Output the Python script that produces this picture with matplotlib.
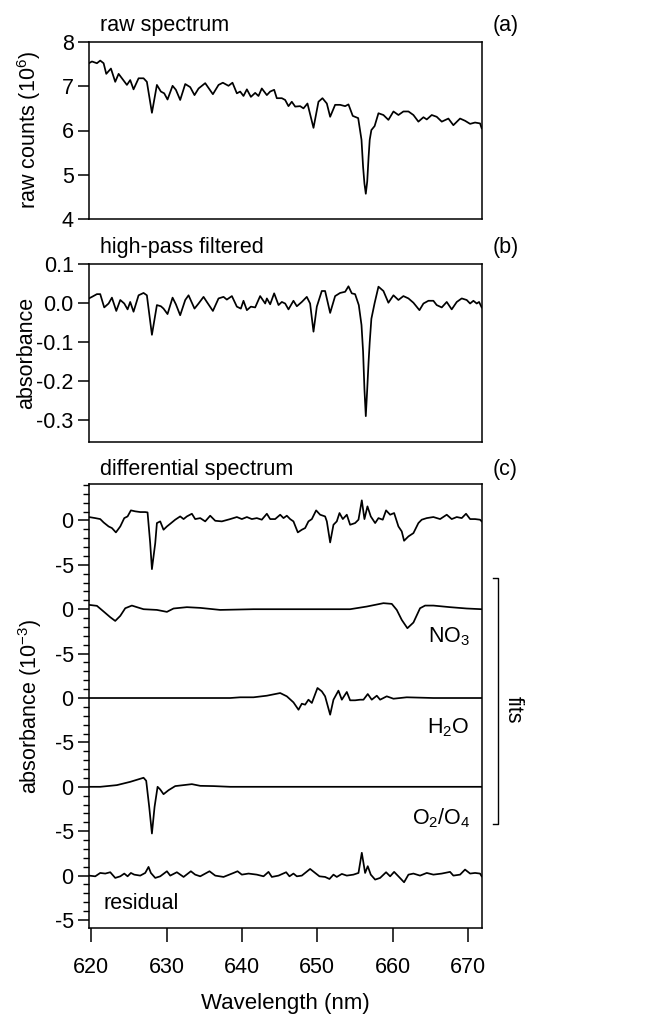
import matplotlib
matplotlib.use("Agg")
import matplotlib.pyplot as plt
from matplotlib.ticker import FixedLocator, MultipleLocator
import numpy as np

plt.rcParams['font.family'] = ['Liberation Sans', 'DejaVu Sans']
plt.rcParams['mathtext.fontset'] = 'custom'
plt.rcParams['mathtext.rm'] = 'Liberation Sans'
plt.rcParams['mathtext.it'] = 'Liberation Sans:italic'
plt.rcParams['mathtext.default'] = 'regular'
plt.rcParams['axes.unicode_minus'] = False

# ---------------- data ----------------
# (a) raw spectrum, counts in 1e6
raw_wl = [619.69, 620.09, 620.75, 621.19, 621.64, 621.99, 622.61, 623.18, 623.63, 624.07,
          624.73, 625.17, 625.61, 626.28, 626.94, 627.38, 628.05, 628.71, 629.24, 629.68,
          630.12, 630.79, 631.23, 631.80, 632.47, 633.13, 633.70, 634.24, 635.12, 636.14,
          636.89, 637.46, 638.21, 638.74, 639.32, 639.76, 640.20, 640.65, 641.18, 641.75,
          642.19, 642.63, 643.30, 643.74, 644.27, 644.62, 645.29, 645.73, 646.17, 646.61,
          647.06, 647.72, 648.16, 648.69, 649.49, 650.15, 650.68, 651.26, 651.70, 652.36,
          653.02, 653.69, 654.13, 654.70, 655.42, 655.86, 656.07, 656.25, 656.43, 656.62,
          656.80, 656.95, 657.17, 657.60, 658.11, 658.77, 659.43, 660.10, 660.76, 661.42,
          662.09, 662.75, 663.41, 664.08, 664.52, 665.18, 665.84, 666.51, 667.39, 668.05,
          668.94, 669.60, 670.27, 670.93, 671.59, 671.81]
raw_counts = [7.52, 7.56, 7.52, 7.58, 7.52, 7.28, 7.40, 7.10, 7.28, 7.18,
              7.03, 7.14, 6.93, 7.18, 7.18, 7.10, 6.40, 7.03, 6.88, 6.84,
              6.70, 7.01, 6.92, 6.69, 7.05, 6.98, 6.80, 6.95, 7.07, 6.82,
              7.03, 7.08, 7.01, 7.08, 6.84, 6.88, 6.78, 6.93, 6.76, 6.85,
              6.78, 6.95, 6.80, 6.88, 6.92, 6.73, 6.73, 6.69, 6.55, 6.65,
              6.54, 6.55, 6.50, 6.61, 6.06, 6.65, 6.73, 6.61, 6.31, 6.58,
              6.58, 6.55, 6.59, 6.33, 6.28, 5.79, 5.18, 4.80, 4.57, 4.85,
              5.40, 5.79, 6.01, 6.10, 6.39, 6.35, 6.24, 6.43, 6.35, 6.43,
              6.43, 6.35, 6.20, 6.30, 6.25, 6.35, 6.31, 6.20, 6.27, 6.12,
              6.27, 6.22, 6.15, 6.18, 6.16, 6.05]

# (b) high-pass filtered absorbance
hp_wl = [619.69, 620.09, 620.75, 621.19, 621.72, 622.30, 622.74, 623.32, 623.85, 624.38,
         624.82, 625.17, 625.61, 626.28, 626.94, 627.38, 628.05, 628.71, 629.24, 629.59,
         630.12, 630.79, 631.23, 631.80, 632.47, 632.91, 633.70, 634.24, 634.90, 635.34,
         636.14, 636.89, 637.55, 637.99, 638.66, 639.32, 639.85, 640.20, 640.65, 641.18,
         641.75, 642.41, 643.08, 643.30, 643.74, 644.27, 644.85, 645.29, 645.73, 646.17,
         646.83, 647.28, 647.94, 648.60, 649.04, 649.49, 649.93, 650.59, 651.03, 651.70,
         652.36, 653.02, 653.69, 654.13, 654.57, 655.01, 655.50, 655.86, 656.07, 656.25,
         656.43, 656.62, 656.80, 656.95, 657.17, 657.60, 658.11, 658.77, 659.43, 660.10,
         660.76, 661.42, 662.09, 662.75, 663.55, 664.08, 664.74, 665.40, 665.84, 666.51,
         667.17, 667.83, 668.50, 669.16, 669.82, 670.27, 670.71, 671.15, 671.46, 671.81]
hp_abs = [0.012, 0.016, 0.023, 0.023, -0.011, -0.001, 0.014, -0.020, 0.008, -0.001,
          -0.016, 0.003, -0.022, 0.020, 0.026, 0.020, -0.081, -0.005, -0.008, -0.014,
          -0.028, 0.014, -0.003, -0.031, 0.008, 0.020, -0.014, -0.001, 0.016, 0.003,
          -0.020, 0.012, 0.016, 0.009, 0.018, -0.009, -0.014, 0.006, -0.018, -0.009,
          -0.011, 0.018, -0.001, 0.012, -0.003, 0.025, -0.005, 0.003, -0.001, -0.016,
          0.006, -0.008, 0.003, 0.016, -0.001, -0.073, -0.009, 0.031, 0.031, -0.025,
          0.018, 0.026, 0.029, 0.043, 0.025, 0.023, -0.005, -0.056, -0.124, -0.220,
          -0.289, -0.220, -0.150, -0.100, -0.040, 0.000, 0.042, 0.031, 0.001, 0.020,
          0.008, 0.018, 0.012, 0.001, -0.018, -0.001, 0.006, 0.006, -0.005, -0.011,
          0.003, -0.016, 0.003, 0.012, 0.008, -0.001, 0.006, -0.001, 0.003, -0.011]

# (c) differential spectrum (1e-3)
diff_wl = [619.69, 620.53, 621.19, 621.64, 622.30, 622.74, 623.27, 623.85, 624.38, 624.82,
           625.26, 625.84, 626.50, 627.16, 627.47, 627.82, 628.05, 628.49, 628.71, 629.15,
           629.59, 630.04, 630.48, 631.14, 631.80, 632.25, 632.69, 633.35, 633.79, 634.46,
           635.12, 635.78, 636.45, 637.33, 638.44, 639.32, 639.98, 640.65, 641.31, 641.97,
           642.63, 643.30, 643.74, 644.40, 645.07, 645.51, 645.95, 646.39, 646.83, 647.41,
           647.94, 648.38, 648.82, 649.27, 649.84, 650.37, 651.03, 651.26, 651.70, 652.14,
           652.58, 652.94, 653.38, 653.91, 654.35, 655.01, 655.46, 655.90, 656.25, 656.65,
           657.09, 657.67, 658.11, 658.68, 659.12, 659.66, 660.19, 660.76, 661.20, 661.51,
           662.09, 662.75, 663.41, 663.85, 664.52, 665.40, 666.29, 667.17, 667.83, 668.50,
           669.16, 669.73, 670.27, 670.93, 671.59, 671.81]
diff_abs = [0.38, 0.26, 0.15, -0.23, -0.68, -0.86, -1.35, -0.68, 0.26, 0.45,
            1.13, 1.02, 0.94, 0.94, 0.90, -2.56, -5.49, -2.56, -0.30, -0.11,
            -1.05, -0.68, -0.38, 0.08, 0.45, 0.15, 0.45, 0.75, 0.15, 0.26,
            -0.11, 0.53, -0.04, -0.11, 0.15, 0.38, 0.15, 0.38, 0.15, 0.26,
            0.08, 0.75, 0.15, 0.15, 0.64, 0.26, 0.53, 0.15, -0.11, -1.35,
            -1.05, -0.86, -0.11, 0.15, 1.13, 0.64, 0.45, -0.11, -2.48, -0.49,
            -0.11, 0.83, 0.15, 0.64, -0.49, -0.30, 0.08, 2.26, 0.15, 1.58,
            0.45, -0.30, 0.26, 0.08, 1.13, 0.64, 0.83, -0.68, -1.24, -2.29,
            -1.80, -1.43, -0.30, 0.08, 0.26, 0.38, 0.15, 0.64, 0.15, 0.38,
            0.26, 0.75, 0.15, 0.15, 0.08, -0.11]

no3_wl = [619.69, 620.75, 621.64, 622.52, 623.18, 623.85, 624.51, 625.39, 626.06, 626.94,
          628.71, 630.04, 630.92, 632.69, 634.46, 637.11, 641.53, 647.72, 654.35, 656.56,
          658.77, 659.88, 660.54, 661.20, 661.95, 662.75, 663.63, 664.30, 665.40, 667.61,
          669.82, 671.81]
no3_abs = [0.49, 0.38, -0.26, -0.90, -1.32, -0.75, 0.11, 0.41, 0.23, 0.00,
           -0.08, -0.30, 0.08, 0.23, 0.15, -0.08, 0.00, 0.00, 0.00, 0.30,
           0.68, 0.60, -0.08, -1.20, -2.14, -1.50, 0.11, 0.41, 0.41, 0.23,
           0.08, 0.00]

h2o_wl = [619.69, 638.44, 639.76, 641.53, 643.30, 645.07, 645.95, 646.83, 647.50, 647.94,
          648.38, 648.82, 649.27, 650.02, 650.59, 651.03, 651.70, 652.14, 652.80, 653.25,
          653.91, 654.35, 655.01, 655.68, 656.12, 656.69, 657.22, 657.89, 658.33, 659.21,
          660.10, 661.86, 665.40, 671.81]
h2o_abs = [0.00, 0.00, 0.08, 0.08, 0.26, 0.56, 0.19, -0.49, -1.32, -0.64,
           -0.75, -0.19, -0.56, 1.13, 0.75, 0.19, -1.88, -0.19, 0.83, -0.19,
           0.68, -0.26, -0.26, -0.19, -0.19, 0.45, -0.19, 0.26, -0.19, 0.19,
           -0.08, 0.08, 0.00, 0.00]

o2_wl = [619.69, 621.19, 623.40, 625.17, 626.94, 627.29, 627.69, 628.05, 628.40, 628.80,
         629.15, 629.59, 630.26, 631.14, 632.25, 633.35, 634.46, 636.22, 638.44, 671.81]
o2_abs = [0.00, 0.00, 0.19, 0.56, 1.02, 0.68, -2.26, -5.26, -2.26, 0.00,
          -0.30, -0.83, -0.38, 0.08, 0.19, 0.30, 0.11, 0.08, 0.00, 0.00]

res_wl = [619.69, 620.53, 621.19, 621.86, 622.52, 623.18, 623.85, 624.38, 624.82, 625.26,
          625.70, 626.50, 627.16, 627.60, 627.91, 628.49, 629.15, 630.04, 630.48, 631.36,
          632.25, 633.22, 633.79, 634.46, 635.69, 636.45, 637.55, 638.88, 639.41, 639.98,
          640.87, 641.97, 642.86, 643.52, 643.96, 644.85, 645.86, 646.30, 646.83, 647.28,
          647.94, 648.38, 649.04, 649.71, 650.28, 651.03, 651.61, 652.14, 652.58, 653.25,
          653.91, 654.79, 655.46, 655.90, 656.34, 656.69, 657.09, 657.67, 658.33, 659.12,
          659.66, 660.19, 660.76, 661.51, 662.09, 662.75, 663.63, 664.52, 665.40, 666.51,
          667.61, 668.05, 668.94, 669.60, 670.27, 670.93, 671.59, 671.81]
res_abs = [0.00, -0.08, 0.30, 0.23, 0.38, -0.26, -0.08, 0.23, -0.08, 0.30,
           0.11, 0.00, 0.30, 0.98, 0.30, -0.26, -0.08, 0.49, 0.00, 0.38,
           -0.15, 0.49, 0.11, -0.08, 0.49, 0.00, -0.15, 0.30, 0.49, 0.11,
           0.23, 0.11, -0.08, 0.42, -0.15, 0.00, 0.38, -0.08, 0.23, -0.08,
           0.00, 0.30, 0.75, 0.30, -0.08, -0.15, -0.38, 0.11, -0.15, 0.19,
           0.00, 0.11, 0.30, 2.57, 0.30, 1.06, 0.11, -0.45, -0.26, 0.38,
           -0.08, 0.42, -0.08, -0.75, 0.11, 0.23, 0.00, 0.30, 0.11, 0.23,
           0.42, 0.00, 0.11, 0.68, 0.23, 0.30, 0.23, -0.08]

diff_traces = [(diff_wl, diff_abs), (no3_wl, no3_abs), (h2o_wl, h2o_abs),
               (o2_wl, o2_abs), (res_wl, res_abs)]
trace_offsets = [0, -10, -20, -30, -40]

xticks = [620, 630, 640, 650, 660, 670]
xlim = (619.7, 671.85)

# ---------------- figure ----------------
W, H = 648, 1019
fig = plt.figure(figsize=(W / 100, H / 100), dpi=100)
FS = 15.5
LW = 1.25

def frac(l, t, r, b):
    return [l / W, 1 - b / H, (r - l) / W, (b - t) / H]

ax_a = fig.add_axes(frac(89, 42, 482, 219))
ax_b = fig.add_axes(frac(89, 264, 482, 442))
ax_c = fig.add_axes(frac(89, 484, 482, 928))

for ax in (ax_a, ax_b, ax_c):
    for s in ax.spines.values():
        s.set_linewidth(1.1)
    ax.set_xlim(*xlim)
    ax.tick_params(axis='y', direction='out', length=8, width=1.1, pad=3,
                   labelsize=FS, right=False)
    ax.tick_params(axis='y', which='minor', direction='out', length=4.5, width=1.0)

# (a)
ax_a.plot(raw_wl, raw_counts, color='black', lw=LW)
ax_a.set_ylim(4, 8)
ax_a.set_yticks([4, 5, 6, 7, 8])
ax_a.set_xticks([])
ax_a.set_ylabel('raw counts (10$^{6}$)', fontsize=FS)
ax_a.yaxis.set_label_coords(-0.117, 0.5)

# (b)
ax_b.plot(hp_wl, hp_abs, color='black', lw=LW)
ax_b.set_ylim(-0.355, 0.1)
ax_b.set_yticks([0.1, 0.0, -0.1, -0.2, -0.3])
ax_b.set_yticklabels(['0.1', '0.0', '-0.1', '-0.2', '-0.3'])
ax_b.set_xticks([])
ax_b.set_ylabel('absorbance', fontsize=FS)
ax_b.yaxis.set_label_coords(-0.132, 0.5)

# (c)
for (wl, ab), off in zip(diff_traces, trace_offsets):
    ax_c.plot(wl, np.asarray(ab) + off, color='black', lw=LW)
ax_c.set_ylim(-45.9, 4.1)
major = []
labels = []
for off in trace_offsets:
    major += [off, off - 5]
    labels += ['0', '-5']
ax_c.yaxis.set_major_locator(FixedLocator(major))
ax_c.set_yticklabels(labels)
ax_c.yaxis.set_minor_locator(MultipleLocator(1))
ax_c.set_xticks(xticks)
ax_c.set_xticklabels([str(v) for v in xticks])
ax_c.tick_params(axis='x', direction='out', length=10, width=1.1, pad=11,
                 labelsize=FS, top=False)
ax_c.set_xlabel('Wavelength (nm)', fontsize=FS + 0.5, labelpad=11)
ax_c.set_ylabel('absorbance (10$^{-3}$)', fontsize=FS)
ax_c.yaxis.set_label_coords(-0.114, 0.5)

# panel titles
def ftext(x, y, s, **kw):
    fig.text(x / W, 1 - y / H, s, fontsize=FS, va='center', **kw)

ftext(100, 25, 'raw spectrum')
ftext(493, 25, '(a)')
ftext(100, 248, 'high-pass filtered')
ftext(493, 248, '(b)')
ftext(100, 470, 'differential spectrum')
ftext(493, 470, '(c)')

# species labels inside panel c
tr = ax_c.get_yaxis_transform()
ax_c.text(0.969, -13.1, 'NO$_3$', transform=tr, ha='right', va='center', fontsize=FS)
ax_c.text(0.969, -23.3, 'H$_2$O', transform=tr, ha='right', va='center', fontsize=FS)
ax_c.text(0.972, -33.5, 'O$_2$/O$_4$', transform=tr, ha='right', va='center', fontsize=FS)
ax_c.text(0.036, -43.1, 'residual', transform=tr, ha='left', va='center', fontsize=FS)

# "fits" bracket
bx, bt = 1.0407, 1.028
ax_c.plot([bt, bx, bx, bt], [-6.46, -6.46, -34.2, -34.2], color='black', lw=1.0,
          transform=tr, clip_on=False)
ax_c.text(1.079, -21.3, 'fits', transform=tr, rotation=-90, ha='center', va='center',
          fontsize=FS)

fig.savefig('out.png', dpi=100)
